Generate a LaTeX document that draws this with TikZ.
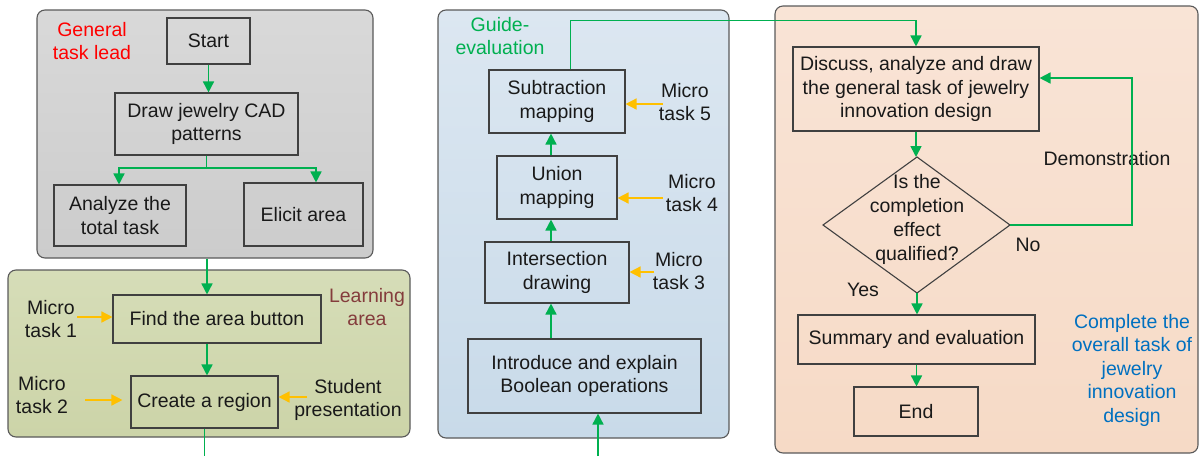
\documentclass[tikz,border=0pt]{standalone}
\usepackage{fontspec}
\setmainfont{Liberation Sans}
\usetikzlibrary{arrows.meta}
\definecolor{grn}{HTML}{00B050}
\definecolor{yel}{HTML}{FFC000}
\definecolor{boxc}{HTML}{404040}
\definecolor{panelc}{HTML}{5A5A5A}
\definecolor{brn}{HTML}{843C3C}
\definecolor{blu}{HTML}{0070C0}
\begin{document}
\begin{tikzpicture}[x=1pt,y=-1pt, font=\fontsize{19.5}{23.5}\selectfont,
  box/.style={draw=boxc, line width=1.1pt, inner sep=0pt, align=center, text=black!90},
  panel/.style={draw=panelc, line width=1.1pt, rounded corners=8pt, inner sep=0pt},
  garrow/.style={draw=grn, line width=1.6pt, -{Triangle[width=11pt,length=11pt]}},
  yarrow/.style={draw=yel, line width=1.5pt, -{Triangle[width=11pt,length=11pt]}},
  gline/.style={draw=grn, line width=1.6pt},
  lbl/.style={align=center, inner sep=1pt, text=black!90}]
\useasboundingbox (0,0) rectangle (1202,456);

% panels
\node[panel, top color=gray!30, bottom color=gray!40, minimum width=336pt, minimum height=248pt] (gray) at (205,134) {};
\node[panel, top color={rgb,255:red,214;green,221;blue,184}, bottom color={rgb,255:red,204;green,212;blue,168}, minimum width=402pt, minimum height=167pt] (green) at (209,353.5) {};
\node[panel, top color={rgb,255:red,220;green,231;blue,241}, bottom color={rgb,255:red,200;green,218;blue,233}, minimum width=291pt, minimum height=428pt] (blue) at (583.5,224) {};
\node[panel, top color={rgb,255:red,249;green,228;blue,214}, bottom color={rgb,255:red,246;green,218;blue,198}, minimum width=423pt, minimum height=447pt] (peach) at (986.5,229.5) {};

% panel labels
\node[lbl, text=red] (glabel) at (92,41) {General\\task lead};
\node[lbl, text=brn] (llabel) at (367,307) {Learning\\area};
\node[lbl, text=grn] (elabel) at (500,36) {Guide-\\evaluation};
\node[lbl, text=blu] (clabel) at (1132,370) {Complete the\\overall task of\\jewelry\\innovation\\design};

% boxes
\node[box, minimum width=83pt, minimum height=46pt] (start) at (208.5,41) {Start};
\node[box, minimum width=183pt, minimum height=62pt] (draw) at (206.5,124) {Draw jewelry CAD\\patterns};
\node[box, minimum width=132pt, minimum height=61pt] (analyze) at (120,215.5) {Analyze the\\total task};
\node[box, minimum width=119pt, minimum height=63pt] (elicit) at (303.5,214.5) {Elicit area};
\node[box, minimum width=208pt, minimum height=48pt] (find) at (217,319) {Find the area button};
\node[box, minimum width=147pt, minimum height=52pt] (create) at (204.5,402) {Create a region};
\node[box, minimum width=136pt, minimum height=63pt] (sub) at (557,101.5) {Subtraction\\mapping};
\node[box, minimum width=120pt, minimum height=63pt] (union) at (557,187.5) {Union\\mapping};
\node[box, minimum width=144pt, minimum height=61pt] (inter) at (557,272.5) {Intersection\\drawing};
\node[box, minimum width=233pt, minimum height=74pt] (intro) at (584.5,376) {Introduce and explain\\Boolean operations};
\node[box, minimum width=246pt, minimum height=84pt] (discuss) at (916,89) {Discuss, analyze and draw\\the general task of jewelry\\innovation design};
\draw[draw=boxc, line width=1.1pt] (917,157) coordinate (dtop) -- (1010,225) coordinate (dright) -- (917,293) coordinate (dbot) -- (823,225) coordinate (dleft) -- cycle;
\node[lbl, font=\fontsize{19.5}{24}\selectfont] (dtext) at (917,219) {Is the\\completion\\effect\\qualified?};
\node[box, minimum width=237pt, minimum height=49pt] (summary) at (916.5,339.5) {Summary and evaluation};
\node[box, minimum width=124pt, minimum height=49pt] (end) at (916,411.5) {End};

% side labels
\node[lbl] (mt1) at (51,319) {Micro\\task 1};
\node[lbl] (mt2) at (42,395) {Micro\\task 2};
\node[lbl] (stu) at (348,400) {Student\\presentation};
\node[lbl] (mt5) at (685,102) {Micro\\task 5};
\node[lbl] (mt4) at (692,193) {Micro\\task 4};
\node[lbl] (mt3) at (679,271) {Micro\\task 3};
\node[lbl] (demo) at (1107,159) {Demonstration};
\node[lbl] (no) at (1028,245) {No};
\node[lbl] (yes) at (863,290) {Yes};

% green connectors, left
\draw[garrow] (start.south) -- (start.south |- draw.north);
\draw[garrow] (draw.south) -- ++(0,12.5) -| ([xshift=-1pt]analyze.north);
\draw[garrow] (draw.south) -- ++(0,12.5) -| ([xshift=12.5pt]elicit.north);
\draw[garrow] ([xshift=2pt]gray.south) -- ([xshift=2pt]gray.south |- find.north);
\draw[garrow] ([xshift=-10pt]find.south) -- ([xshift=-10pt]find.south |- create.north);
\coordinate (cb) at (204.5,456);
\draw[gline] (create.south) -- (cb);

% green connectors, middle
\draw[garrow] ([xshift=-6pt]union.north) -- ([xshift=-6pt]sub.south);
\draw[garrow] ([xshift=-6pt]inter.north) -- ([xshift=-6pt]union.south);
\draw[garrow] ([xshift=-6pt]inter.south |- intro.north) -- ([xshift=-6pt]inter.south);
\coordinate (ib) at (598,456);
\draw[garrow] (ib) -- (ib |- intro.south);
\coordinate (topturn) at (570.5,20.5);
\draw[garrow] (sub.north -| topturn) -- (topturn) -| (discuss.north);

% green connectors, right
\draw[garrow] (discuss.south) -- (discuss.south |- dtop);
\coordinate (loop) at (1132,78);
\draw[garrow] (dright) -| (loop) -- (discuss.east |- loop);
\draw[garrow] (dbot) -- (dbot |- summary.north);
\draw[garrow] (summary.south) -- (summary.south |- end.north);

% yellow connectors
\coordinate (y1) at (77,317);
\coordinate (y2) at (85,400);
\coordinate (y3) at (307,397);
\coordinate (y5) at (663,104);
\coordinate (y4) at (663,198);
\coordinate (y6) at (654,272);
\draw[yarrow] (y1) -- (find.west |- y1);
\draw[yarrow] (y2) -- ([xshift=-8pt]create.west |- y2);
\draw[yarrow] (y3) -- (create.east |- y3);
\draw[yarrow] (y5) -- (sub.east |- y5);
\draw[yarrow] (y4) -- (union.east |- y4);
\draw[yarrow] (y6) -- (inter.east |- y6);
\end{tikzpicture}
\end{document}
